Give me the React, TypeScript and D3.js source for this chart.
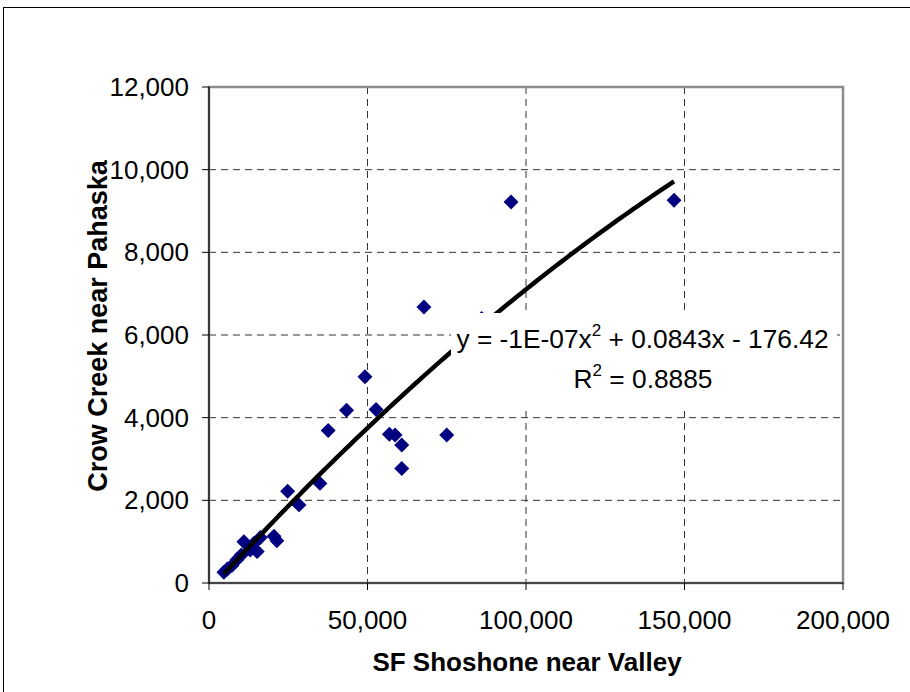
import React from "react";
import * as d3 from "d3";

const xValues = [4700, 5800, 7200, 8800, 10200, 11000, 13000, 14200, 15200, 16200, 20500, 21400, 24800, 28400, 35000, 37600, 43400, 49200, 52700, 56900, 58700, 60800, 60800, 67800, 75000, 86000, 95300, 146700];
const yValues = [260, 340, 420, 560, 680, 1000, 800, 960, 760, 1100, 1130, 1020, 2220, 1890, 2410, 3690, 4180, 4990, 4200, 3600, 3580, 3340, 2770, 6680, 3580, 6400, 9220, 9260];
const xTicks = [0, 50000, 100000, 150000, 200000];
const yTicks = [0, 2000, 4000, 6000, 8000, 10000, 12000];
const trendA = -1.15e-7;
const trendB = 0.0843;
const trendC = -176.42;
const xTitle = "SF Shoshone near Valley";
const yTitle = "Crow Creek near Pahaska";
const eqLine1a = "y = -1E-07x";
const eqLine1b = " + 0.0843x - 176.42";
const eqLine2a = "R";
const eqLine2b = " = 0.8885";

export default function App() {
  const W = 910, H = 692;
  const left = 209, right = 843, top = 87, bottom = 583;
  const x = d3.scaleLinear().domain([0, 200000]).range([left, right]);
  const y = d3.scaleLinear().domain([0, 12000]).range([bottom, top]);
  const fmt = d3.format(",");
  const font = "'Liberation Sans', Arial, sans-serif";

  const xmin = d3.min(xValues) as number;
  const xmax = d3.max(xValues) as number;
  const trendPts = d3.range(0, 101).map((i) => {
    const xv = xmin + ((xmax - xmin) * i) / 100;
    return [xv, trendA * xv * xv + trendB * xv + trendC] as [number, number];
  });
  const line = d3.line<[number, number]>().x((d) => x(d[0])).y((d) => y(d[1]));
  const diamond = d3.symbol().type(d3.symbolSquare).size(112)();

  return (
    <svg width={W} height={H} style={{ position: "absolute", left: 0, top: 0, background: "#fff" }} fontFamily={font}>
      <rect x={0} y={0} width={W} height={H} fill="#fff" />
      <rect x={3.5} y={7.5} width={W + 10} height={H + 10} fill="none" stroke="#000" strokeWidth={1} />
      {/* gridlines */}
      {yTicks.filter((t) => t > 0 && t < 12000).map((t) => (
        <line key={"gy" + t} x1={left} x2={right} y1={y(t)} y2={y(t)} stroke="#333" strokeWidth={1} strokeDasharray="7,5" />
      ))}
      {xTicks.filter((t) => t > 0 && t < 200000).map((t) => (
        <line key={"gx" + t} x1={x(t)} x2={x(t)} y1={top} y2={bottom} stroke="#333" strokeWidth={1} strokeDasharray="7,5" />
      ))}
      {/* plot border */}
      <rect x={left} y={top} width={right - left} height={bottom - top} fill="none" stroke="#8c8c8c" strokeWidth={2.5} />
      {/* axes */}
      <line x1={left} x2={left} y1={top} y2={bottom} stroke="#000" strokeWidth={1.2} />
      <line x1={left} x2={right} y1={bottom} y2={bottom} stroke="#000" strokeWidth={1.2} />
      {yTicks.map((t) => (
        <g key={"ty" + t}>
          <line x1={left - 7} x2={left} y1={y(t)} y2={y(t)} stroke="#000" strokeWidth={1} />
          <text x={189} y={y(t)} textAnchor="end" dominantBaseline="central" fontSize={26} fill="#000">
            {fmt(t)}
          </text>
        </g>
      ))}
      {xTicks.map((t) => (
        <g key={"tx" + t}>
          <line x1={x(t)} x2={x(t)} y1={bottom} y2={bottom + 7} stroke="#000" strokeWidth={1} />
          <text x={x(t)} y={620} textAnchor="middle" dominantBaseline="central" fontSize={26} fill="#000">
            {fmt(t)}
          </text>
        </g>
      ))}
      {/* points */}
      {xValues.map((xv, i) => (
        <path key={"p" + i} d={diamond} transform={`translate(${x(xv)},${y(yValues[i])}) rotate(45)`} fill="#000080" />
      ))}
      {/* trendline */}
      <path d={line(trendPts) || ""} fill="none" stroke="#000" strokeWidth={4.5} />
      {/* label box */}
      <rect x={451} y={313} width={386} height={93} fill="#fff" />
      <text x={642.5} y={339} textAnchor="middle" dominantBaseline="central" fontSize={26.3} fill="#000">
        {eqLine1a}
        <tspan fontSize={17} dy={-9}>2</tspan>
        <tspan dy={9}>{eqLine1b}</tspan>
      </text>
      <text x={643} y={379} textAnchor="middle" dominantBaseline="central" fontSize={26.3} fill="#000">
        {eqLine2a}
        <tspan fontSize={17} dy={-9}>2</tspan>
        <tspan dy={9}>{eqLine2b}</tspan>
      </text>
      {/* titles */}
      <text x={527} y={662} textAnchor="middle" dominantBaseline="central" fontSize={26} fontWeight="bold" fill="#000">
        {xTitle}
      </text>
      <text transform={`translate(107,326) rotate(-90)`} textAnchor="middle" fontSize={27} fontWeight="bold" fill="#000">
        {yTitle}
      </text>
    </svg>
  );
}
